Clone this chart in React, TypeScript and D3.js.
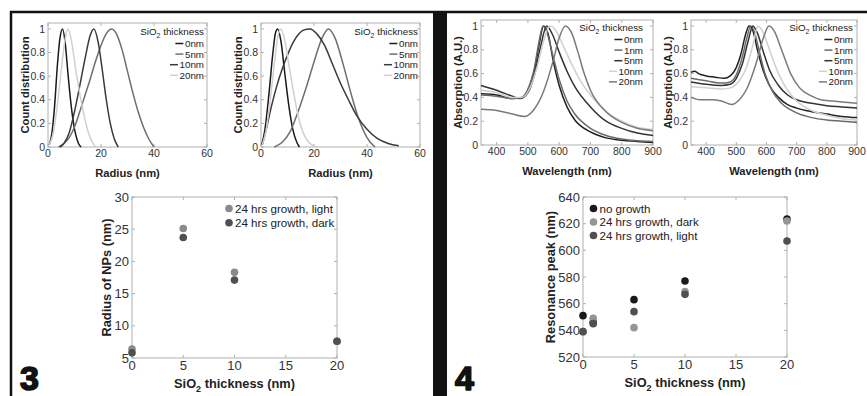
import React from "react";
import * as d3 from "d3";

type Pt = [number, number];

const FONT = "'Liberation Sans', Arial, Helvetica, sans-serif";

// ---- top of panel 3: radius count distributions ----
const radiusNames = ["0nm", "5nm", "10nm", "20nm"];
const radiusColors = ["#1a1a1a", "#6e6e6e", "#3a3a3a", "#d0d0d0"];
const radiusTicks = [0, 20, 40, 60];
const unitTicks = [0, 0.2, 0.4, 0.6, 0.8, 1];

const distA0: Pt[] = [[0.5, 0.02], [1.5, 0.12], [2.5, 0.35], [3.5, 0.68], [4.5, 0.92], [5.5, 1], [6.5, 0.88], [7.5, 0.63], [8.5, 0.4], [9.5, 0.22], [10.5, 0.1], [11.5, 0.03], [12.5, 0]];
const distA5: Pt[] = [[4, 0], [6, 0.03], [8, 0.08], [10, 0.17], [12, 0.3], [14, 0.44], [16, 0.58], [18, 0.73], [20, 0.86], [22, 0.96], [24, 1], [26, 0.95], [28, 0.82], [30, 0.64], [32, 0.46], [34, 0.3], [36, 0.17], [38, 0.07], [40, 0]];
const distA10: Pt[] = [[4.5, 0], [6, 0.03], [8, 0.12], [10, 0.3], [12, 0.52], [14, 0.75], [16, 0.95], [17.3, 1], [19, 0.88], [20.5, 0.65], [22, 0.4], [23.5, 0.2], [25, 0.07], [26.5, 0]];
const distA20: Pt[] = [[0.5, 0.02], [2, 0.12], [3.5, 0.35], [5, 0.65], [6.5, 0.92], [7.6, 1], [9, 0.88], [10.5, 0.65], [12, 0.45], [13.5, 0.28], [15, 0.14], [16.5, 0.05], [18, 0]];

const distB0: Pt[] = [[0.3, 0.02], [1.5, 0.15], [3, 0.45], [4.5, 0.8], [5.5, 0.97], [6.3, 1], [7.5, 0.9], [9, 0.62], [10.5, 0.35], [12, 0.15], [13.5, 0.04], [14.5, 0]];
const distB5: Pt[] = [[5, 0], [8, 0.04], [11, 0.13], [14, 0.3], [17, 0.5], [20, 0.72], [23, 0.92], [25.4, 1], [28, 0.92], [31, 0.7], [34, 0.45], [37, 0.23], [40, 0.08], [43, 0]];
const distB10: Pt[] = [[0.5, 0.02], [2, 0.15], [4, 0.35], [6, 0.52], [8, 0.66], [10, 0.78], [12, 0.88], [14, 0.95], [16, 0.99], [18.5, 1], [21, 0.96], [24, 0.86], [27, 0.7], [30, 0.54], [33, 0.4], [36, 0.27], [40, 0.15], [44, 0.07], [48, 0.03], [52, 0.01]];
const distB20: Pt[] = [[0.5, 0.02], [2, 0.15], [3.5, 0.4], [5, 0.7], [6.5, 0.95], [7.5, 1], [9, 0.9], [10.5, 0.7], [12, 0.5], [13.5, 0.32], [15, 0.18], [17, 0.07], [19, 0.02], [21.5, 0]];

// ---- top of panel 4: absorption spectra ----
const specNames = ["0nm", "1nm", "5nm", "10nm", "20nm"];
const specColors = ["#222222", "#6a6a6a", "#333333", "#d0d0d0", "#7a7a7a"];
const waveTicks = [400, 500, 600, 700, 800, 900];

const specC0: Pt[] = [[350, 0.43], [400, 0.42], [450, 0.39], [480, 0.4], [500, 0.46], [520, 0.62], [535, 0.83], [550, 1], [565, 0.93], [580, 0.72], [600, 0.5], [625, 0.32], [650, 0.21], [700, 0.11], [750, 0.06], [800, 0.04], [850, 0.03], [900, 0.02]];
const specC1: Pt[] = [[350, 0.42], [400, 0.41], [450, 0.39], [480, 0.4], [500, 0.47], [520, 0.64], [535, 0.86], [548, 1], [560, 0.95], [580, 0.75], [600, 0.55], [625, 0.37], [650, 0.26], [700, 0.14], [750, 0.08], [800, 0.05], [850, 0.035], [900, 0.03]];
const specC5: Pt[] = [[350, 0.5], [400, 0.46], [450, 0.41], [475, 0.39], [500, 0.44], [520, 0.58], [540, 0.82], [560, 1], [580, 0.92], [600, 0.78], [625, 0.62], [650, 0.49], [700, 0.32], [750, 0.2], [800, 0.14], [850, 0.1], [900, 0.08]];
const specC10: Pt[] = [[350, 0.46], [400, 0.44], [450, 0.4], [480, 0.4], [510, 0.5], [530, 0.66], [550, 0.87], [570, 1], [590, 0.96], [610, 0.85], [640, 0.68], [670, 0.53], [700, 0.42], [750, 0.28], [800, 0.2], [850, 0.15], [900, 0.13]];
const specC20: Pt[] = [[350, 0.3], [400, 0.29], [450, 0.26], [490, 0.24], [520, 0.3], [550, 0.45], [580, 0.7], [600, 0.9], [620, 1], [640, 0.94], [660, 0.78], [680, 0.6], [700, 0.46], [750, 0.28], [800, 0.19], [850, 0.14], [900, 0.12]];

const specD0: Pt[] = [[350, 0.61], [362, 0.62], [375, 0.6], [400, 0.58], [430, 0.57], [460, 0.56], [480, 0.58], [500, 0.65], [515, 0.76], [530, 0.92], [542, 1], [555, 0.96], [570, 0.8], [590, 0.62], [610, 0.5], [640, 0.4], [670, 0.34], [700, 0.31], [750, 0.28], [800, 0.26], [850, 0.24], [900, 0.23]];
const specD1: Pt[] = [[350, 0.56], [400, 0.54], [450, 0.52], [480, 0.53], [500, 0.59], [520, 0.74], [535, 0.9], [548, 1], [560, 0.95], [575, 0.8], [595, 0.6], [620, 0.45], [650, 0.35], [700, 0.27], [750, 0.23], [800, 0.21], [850, 0.2], [900, 0.19]];
const specD5: Pt[] = [[350, 0.53], [400, 0.51], [450, 0.5], [480, 0.51], [500, 0.56], [520, 0.68], [540, 0.88], [555, 1], [570, 0.94], [590, 0.78], [610, 0.63], [640, 0.5], [670, 0.42], [700, 0.38], [750, 0.35], [800, 0.33], [850, 0.32], [900, 0.31]];
const specD10: Pt[] = [[350, 0.49], [400, 0.48], [450, 0.47], [480, 0.48], [510, 0.54], [535, 0.66], [555, 0.84], [572, 1], [590, 0.94], [610, 0.8], [640, 0.6], [670, 0.46], [700, 0.37], [750, 0.29], [800, 0.25], [850, 0.22], [900, 0.21]];
const specD20: Pt[] = [[350, 0.4], [380, 0.38], [420, 0.38], [450, 0.37], [485, 0.34], [510, 0.38], [540, 0.5], [565, 0.68], [590, 0.9], [608, 1], [625, 0.96], [650, 0.8], [680, 0.6], [710, 0.48], [750, 0.41], [780, 0.38], [820, 0.37], [860, 0.36], [900, 0.35]];

// ---- bottom scatter plots ----
const thickTicks = [0, 5, 10, 15, 20];
const npTicks = [5, 10, 15, 20, 25, 30];
const peakTicks = [520, 540, 560, 580, 600, 620, 640];

const npThickness = [0, 5, 10, 20];
const npLight = [6.4, 25.1, 18.3, 7.6];
const npDark = [5.8, 23.7, 17.1, 7.6];

const peakThickness = [0, 1, 5, 10, 20];
const peakNoGrowth = [551, 546, 563, 577, 623.5];
const peakDark = [539, 549, 542, 569, 622];
const peakLight = [539, 545, 554, 567, 607];

const fmt = (v: number) => String(Math.round(v * 100) / 100);

function SiO2({ x, y, fs, anchor = "start", bold = false, rest = "" }: any) {
  return (
    <text x={x} y={y} fontSize={fs} textAnchor={anchor} fontWeight={bold ? "bold" : "normal"} fill="#222">
      SiO<tspan dy={fs * 0.3} fontSize={fs * 0.7}>2</tspan>
      <tspan dy={-fs * 0.3}>{rest}</tspan>
    </text>
  );
}

function Axes({ sx, sy, xTicks, yTicks, fs }: any) {
  const [x0, x1] = sx.range();
  const [yb, yt] = sy.range();
  return (
    <g fontSize={fs} fill="#333">
      <rect x={x0} y={yt} width={x1 - x0} height={yb - yt} fill="none" stroke="#b0b0b0" strokeWidth={1} />
      {xTicks.map((t: number) => (
        <g key={"x" + t}>
          <line x1={sx(t)} x2={sx(t)} y1={yb} y2={yb - 3} stroke="#b0b0b0" />
          <line x1={sx(t)} x2={sx(t)} y1={yt} y2={yt + 3} stroke="#b0b0b0" />
          <text x={sx(t)} y={yb + 3} dy="0.71em" textAnchor="middle">{fmt(t)}</text>
        </g>
      ))}
      {yTicks.map((t: number) => (
        <g key={"y" + t}>
          <line x1={x0} x2={x0 + 3} y1={sy(t)} y2={sy(t)} stroke="#b0b0b0" />
          <line x1={x1} x2={x1 - 3} y1={sy(t)} y2={sy(t)} stroke="#b0b0b0" />
          <text x={x0 - 3} y={sy(t)} dy="0.35em" textAnchor="end">{fmt(t)}</text>
        </g>
      ))}
    </g>
  );
}

function LinePanel({ box, xDomain, xTicks, series, names, colors, xLabel, yLabel, leg }: any) {
  const sx = d3.scaleLinear().domain(xDomain).range([box.x0, box.x1]);
  const sy = d3.scaleLinear().domain([0, 1.05]).range([box.y1, box.y0]);
  const line = d3.line<Pt>().x((d) => sx(d[0])).y((d) => sy(d[1])).curve(d3.curveMonotoneX);
  const lfs = 9.8;
  return (
    <g fontFamily={FONT}>
      <Axes sx={sx} sy={sy} xTicks={xTicks} yTicks={unitTicks} fs={10.5} />
      {series.map((s: Pt[], i: number) => (
        <path key={i} d={line(s) || ""} fill="none" stroke={colors[i]} strokeWidth={1.5} />
      ))}
      <SiO2 x={leg.right} y={leg.top} fs={lfs} anchor="end" rest=" thickness" />
      {names.map((n: string, i: number) => {
        const cy = leg.top + 8.5 + i * 10.6;
        const w = lfs * (0.556 * (n.length - 2) + 1.445);
        const le = leg.right - w - 1;
        return (
          <g key={n}>
            <line x1={le - 8} x2={le} y1={cy} y2={cy} stroke={colors[i]} strokeWidth={1.5} />
            <text x={leg.right} y={cy} dy="0.35em" fontSize={lfs} textAnchor="end" fill="#222">{n}</text>
          </g>
        );
      })}
      <text x={(box.x0 + box.x1) / 2} y={box.y1 + 30} fontSize={11.2} fontWeight="bold" textAnchor="middle" fill="#222">{xLabel}</text>
      <text transform={`translate(${box.ylx},${(box.y0 + box.y1) / 2}) rotate(-90)`} dy="0.35em" fontSize={11.2} fontWeight="bold" textAnchor="middle" fill="#222">{yLabel}</text>
    </g>
  );
}

function ScatterPanel({ box, yDomain, yTicks, xs, groups, colors, names, yLabel, leg }: any) {
  const sx = d3.scaleLinear().domain([0, 20]).range([box.x0, box.x1]);
  const sy = d3.scaleLinear().domain(yDomain).range([box.y1, box.y0]);
  return (
    <g fontFamily={FONT}>
      <Axes sx={sx} sy={sy} xTicks={thickTicks} yTicks={yTicks} fs={13} />
      {groups.map((g: number[], gi: number) =>
        g.map((v: number, i: number) => (
          <circle key={gi + "-" + i} cx={sx(xs[i])} cy={sy(v)} r={3.8} fill={colors[gi]} />
        ))
      )}
      {names.map((n: string, i: number) => (
        <g key={n}>
          <circle cx={leg.x} cy={leg.y + i * leg.dy} r={3.8} fill={colors[i]} />
          <text x={leg.x + 6} y={leg.y + i * leg.dy} dy="0.35em" fontSize={11.6} fill="#222">{n}</text>
        </g>
      ))}
      <SiO2 x={(box.x0 + box.x1) / 2} y={box.y1 + 30} fs={12.8} anchor="middle" bold rest=" thickness (nm)" />
      <text transform={`translate(${box.ylx},${(box.y0 + box.y1) / 2}) rotate(-90)`} dy="0.35em" fontSize={12.8} fontWeight="bold" textAnchor="middle" fill="#222">{yLabel}</text>
    </g>
  );
}

export default function App() {
  return (
    <svg width={867} height={396} style={{ position: "absolute", left: 0, top: 0, background: "#fff" }}>
      <rect x={0} y={0} width={867} height={396} fill="#fff" />
      {/* frames */}
      <line x1={10} x2={867} y1={12} y2={12} stroke="#111" strokeWidth={2.5} />
      <line x1={11} x2={11} y1={11} y2={396} stroke="#111" strokeWidth={2.5} />
      <rect x={433} y={11} width={14} height={385} fill="#111" />

      <LinePanel
        box={{ x0: 48, x1: 207, y0: 23, y1: 147, ylx: 25 }}
        xDomain={[0, 60]} xTicks={radiusTicks}
        series={[distA0, distA5, distA10, distA20]} names={radiusNames} colors={radiusColors}
        xLabel="Radius (nm)" yLabel="Count distribution" leg={{ right: 204, top: 35 }}
      />
      <LinePanel
        box={{ x0: 261, x1: 420, y0: 23, y1: 147, ylx: 238 }}
        xDomain={[0, 60]} xTicks={radiusTicks}
        series={[distB0, distB5, distB10, distB20]} names={radiusNames} colors={radiusColors}
        xLabel="Radius (nm)" yLabel="Count distribution" leg={{ right: 418, top: 35 }}
      />
      <LinePanel
        box={{ x0: 481, x1: 653, y0: 20, y1: 145, ylx: 458 }}
        xDomain={[350, 900]} xTicks={waveTicks}
        series={[specC0, specC1, specC5, specC10, specC20]} names={specNames} colors={specColors}
        xLabel="Wavelength (nm)" yLabel="Absorption (A.U.)" leg={{ right: 643, top: 31 }}
      />
      <LinePanel
        box={{ x0: 691, x1: 857, y0: 20, y1: 145, ylx: 668 }}
        xDomain={[350, 900]} xTicks={waveTicks}
        series={[specD0, specD1, specD5, specD10, specD20]} names={specNames} colors={specColors}
        xLabel="Wavelength (nm)" yLabel="Absorption (A.U.)" leg={{ right: 853, top: 31 }}
      />

      <ScatterPanel
        box={{ x0: 132, x1: 337, y0: 197, y1: 358, ylx: 107 }}
        yDomain={[5, 30]} yTicks={npTicks} xs={npThickness}
        groups={[npLight, npDark]} colors={["#8a8a8a", "#505050"]}
        names={["24 hrs growth, light", "24 hrs growth, dark"]}
        yLabel="Radius of NPs (nm)" leg={{ x: 229, y: 208.5, dy: 14.3 }}
      />
      <ScatterPanel
        box={{ x0: 583, x1: 787, y0: 197, y1: 357, ylx: 551 }}
        yDomain={[520, 640]} yTicks={peakTicks} xs={peakThickness}
        groups={[peakNoGrowth, peakDark, peakLight]} colors={["#1a1a1a", "#959595", "#505050"]}
        names={["no growth", "24 hrs growth, dark", "24 hrs growth, light"]}
        yLabel="Resonance peak (nm)" leg={{ x: 593.5, y: 208.5, dy: 13.5 }}
      />

      <text x={20} y={390} fontFamily={FONT} fontSize={34} fontWeight="bold" fill="#111" stroke="#111" strokeWidth={1.6} strokeLinejoin="round">3</text>
      <text x={455} y={390} fontFamily={FONT} fontSize={34} fontWeight="bold" fill="#111" stroke="#111" strokeWidth={1.6} strokeLinejoin="round">4</text>
    </svg>
  );
}
